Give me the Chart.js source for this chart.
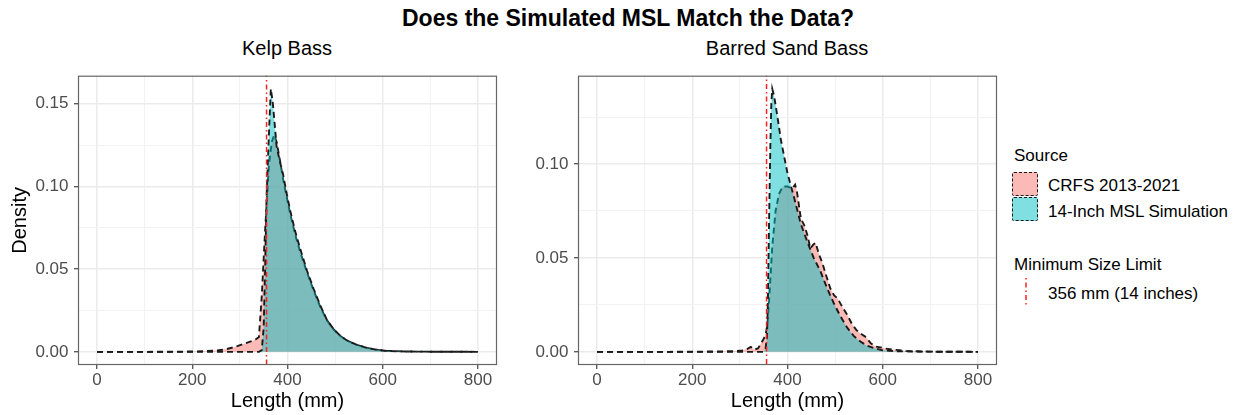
<!DOCTYPE html>
<html><head><meta charset="utf-8">
<script src="https://cdn.jsdelivr.net/npm/chart.js@4/dist/chart.umd.min.js"></script>
<style>
html,body{margin:0;padding:0;background:#fff;}
body{width:1242px;height:415px;overflow:hidden;position:relative;font-family:"Liberation Sans",Arial,Helvetica,sans-serif;color:#000;}
.t{position:absolute;white-space:nowrap;line-height:1;}
canvas{position:absolute;}
.key{position:absolute;box-sizing:border-box;width:26px;height:24px;border:1.8px dashed #1a1a1a;border-radius:2px;}
</style></head><body>
<div class="t" style="left:0;width:1256px;top:7px;text-align:center;font-weight:bold;font-size:23px;">Does the Simulated MSL Match the Data?</div>
<div class="t" style="left:187px;width:200px;top:38px;text-align:center;font-size:20px;">Kelp Bass</div>
<div class="t" style="left:637px;width:300px;top:38px;text-align:center;font-size:20px;">Barred Sand Bass</div>
<canvas id="c1" width="510" height="355" style="left:0;top:60px;"></canvas>
<canvas id="c2" width="510" height="355" style="left:500px;top:60px;"></canvas>
<div class="t" style="left:1014px;top:147px;font-size:17px;">Source</div>
<div class="key" style="left:1012px;top:172px;background:#FBBAB6;"></div>
<div class="key" style="left:1012px;top:197px;background:#7FDFE1;"></div>
<div class="t" style="left:1048px;top:177px;font-size:17px;">CRFS 2013-2021</div>
<div class="t" style="left:1048px;top:203px;font-size:17px;">14-Inch MSL Simulation</div>
<div class="t" style="left:1014px;top:256px;font-size:17px;">Minimum Size Limit</div>
<canvas id="lk" width="12" height="30" style="left:1020px;top:277px;"></canvas>
<div class="t" style="left:1048px;top:285px;font-size:17px;">356 mm (14 inches)</div>
<script>
// ---- data (length in mm, density) ----
const kelpCrfsLen = [0, 100, 150, 200, 230, 250, 270, 287, 305, 320, 333, 340, 346, 353, 361, 367, 372, 377, 384, 391, 398, 406, 416, 427, 441, 455, 469, 483, 497, 511, 525, 546, 567, 590, 610, 650, 700, 800];
const kelpCrfsDen = [0, 0, 0.0001, 0.0002, 0.0005, 0.0008, 0.0015, 0.0028, 0.0045, 0.006, 0.0075, 0.009, 0.034, 0.0735, 0.113, 0.127, 0.131, 0.127, 0.116, 0.104, 0.094, 0.083, 0.071, 0.060, 0.048, 0.037, 0.027, 0.019, 0.0135, 0.0095, 0.0068, 0.0042, 0.0024, 0.0012, 0.0006, 0.0002, 0.0001, 0];
const kelpSimLen = [0, 340, 346, 350, 353, 356, 361, 365, 369, 373, 377, 384, 391, 398, 406, 416, 427, 441, 455, 469, 483, 497, 511, 525, 546, 567, 590, 610, 650, 700, 800];
const kelpSimDen = [0, 0, 0.001, 0.015, 0.05, 0.093, 0.132, 0.159, 0.151, 0.138, 0.1245, 0.115, 0.107, 0.096, 0.085, 0.073, 0.062, 0.049, 0.038, 0.028, 0.0192, 0.0137, 0.0097, 0.0069, 0.0042, 0.0024, 0.0011, 0.0005, 0.0002, 0.0001, 0];
const barredCrfsLen = [0, 150, 250, 290, 305, 315, 323, 330, 338, 348, 354, 358, 362, 368, 375, 382, 390, 400, 410, 416, 420, 428, 435, 442, 448, 454, 459, 466, 473, 482, 490, 498, 505, 515, 525, 535, 545, 555, 565, 575, 585, 595, 605, 620, 635, 650, 700, 800];
const barredCrfsDen = [0, 0, 0.0002, 0.0004, 0.0008, 0.0015, 0.0026, 0.0012, 0.0018, 0.006, 0.009, 0.015, 0.030, 0.056, 0.075, 0.084, 0.088, 0.088, 0.087, 0.089, 0.085, 0.071, 0.0675, 0.062, 0.055, 0.057, 0.058, 0.052, 0.0475, 0.040, 0.0337, 0.030, 0.0285, 0.024, 0.0199, 0.015, 0.0115, 0.0095, 0.0078, 0.0045, 0.0028, 0.0024, 0.0018, 0.0012, 0.0009, 0.0004, 0.0001, 0];
const barredSimLen = [0, 350, 354, 357, 359, 361, 364, 366, 368, 372, 379, 386, 393, 400, 414, 428, 441, 455, 469, 483, 497, 511, 525, 539, 553, 567, 581, 600, 630, 700, 800];
const barredSimDen = [0, 0, 0.002, 0.008, 0.03, 0.065, 0.11, 0.132, 0.140, 0.136, 0.125, 0.113, 0.104, 0.095, 0.082, 0.068, 0.059, 0.050, 0.043, 0.034, 0.026, 0.019, 0.013, 0.0085, 0.0055, 0.0033, 0.002, 0.0008, 0.0003, 0.0001, 0];
const mslLength = 356;
// ---- ticks ----
const xMajorTicks = [0, 200, 400, 600, 800];
const xTickLabels = ['0', '200', '400', '600', '800'];
const xMinorTicks = [100, 300, 500, 700];
const yMajorTicks = [0, 0.05, 0.10, 0.15];
const yTickLabels = ['0.00', '0.05', '0.10', '0.15'];
const yMinorTicks = [0.025, 0.075, 0.125];
const seriesNames = ['CRFS 2013-2021', '14-Inch MSL Simulation'];

const FONT = '"Liberation Sans", Arial, Helvetica, sans-serif';
const framePlugin = {
  id: 'frame',
  afterDraw(chart) {
    const {ctx, chartArea: a} = chart;
    ctx.save();
    ctx.strokeStyle = '#666666';
    ctx.lineWidth = 1.2;
    ctx.strokeRect(a.left + 0.5, a.top + 0.5, a.right - a.left - 1, a.bottom - a.top - 1);
    ctx.restore();
  }
};

function pts(xs, ys) { return xs.map((x, i) => ({x: x, y: ys[i]})); }

function makeChart(id, cLen, cDen, sLen, sDen, showYTitle) {
  const peak = Math.max(...cDen, ...sDen);
  const yMin = -0.05 * peak, yMax = 1.05 * peak;
  const allLen = cLen.concat(sLen);
  const lo = Math.min(...allLen), hi = Math.max(...allLen);
  const xMin = lo - 0.05 * (hi - lo), xMax = hi + 0.05 * (hi - lo);
  const yVals = yMajorTicks.concat(yMinorTicks).filter(v => v >= yMin && v <= yMax).sort((a, b) => a - b);
  const xVals = xMajorTicks.concat(xMinorTicks).sort((a, b) => a - b);
  const isMajorX = v => xMajorTicks.some(m => Math.abs(m - v) < 1e-9);
  const isMajorY = v => yMajorTicks.some(m => Math.abs(m - v) < 1e-9);
  const gridColor = (maj) => (c) => (c.tick && maj(c.tick.value)) ? '#EBEBEB' : '#F2F2F2';
  const gridWidth = (maj) => (c) => (c.tick && maj(c.tick.value)) ? 1.5 : 1;
  const tickColor = (maj) => (c) => (c.tick && maj(c.tick.value)) ? '#333333' : 'rgba(0,0,0,0)';
  new Chart(document.getElementById(id), {
    type: 'line',
    data: {
      datasets: [
        { label: 'MSL', data: [{x: mslLength, y: yMin - 1}, {x: mslLength, y: yMax + 1}],
          borderColor: '#FF2020', borderWidth: 1.5, borderDash: [1.5, 3, 5, 3], fill: false,
          pointRadius: 0, tension: 0, clip: 0, order: 0 },
        { label: seriesNames[1], data: pts(sLen, sDen),
          borderColor: '#1a1a1a', borderWidth: 1.9, borderDash: [6, 4], backgroundColor: 'rgba(0,191,196,0.5)',
          fill: 'origin', pointRadius: 0, tension: 0, order: 1 },
        { label: seriesNames[0], data: pts(cLen, cDen),
          borderColor: '#1a1a1a', borderWidth: 1.9, borderDash: [6, 4], backgroundColor: 'rgba(248,118,109,0.5)',
          fill: 'origin', pointRadius: 0, tension: 0, order: 2 }
      ]
    },
    options: {
      responsive: false, animation: false, devicePixelRatio: 1,
      layout: { padding: { top: 7, right: 13, left: 0, bottom: 0 } },
      plugins: { legend: { display: false }, tooltip: { enabled: false }, title: { display: false } },
      scales: {
        x: {
          type: 'linear', min: xMin, max: xMax,
          afterBuildTicks: s => { s.ticks = xVals.map(v => ({value: v})); },
          afterFit: s => { s.height = 50; },
          grid: { color: gridColor(isMajorX), lineWidth: gridWidth(isMajorX), tickColor: tickColor(isMajorX), tickLength: 4, tickWidth: 1.1 },
          border: { display: false },
          ticks: { autoSkip: false, maxRotation: 0, padding: 1, color: '#4D4D4D', font: { family: FONT, size: 17, lineHeight: 1.2 },
            callback: v => { const i = xMajorTicks.findIndex(m => Math.abs(m - v) < 1e-9); return i >= 0 ? xTickLabels[i] : ''; } },
          title: { display: true, text: 'Length (mm)', color: '#000', font: { family: FONT, size: 20, lineHeight: 1.2 }, padding: { top: 0, bottom: 1.7 } }
        },
        y: {
          type: 'linear', min: yMin, max: yMax,
          afterBuildTicks: s => { s.ticks = yVals.map(v => ({value: v})); },
          afterFit: s => { s.width = 78; },
          grid: { color: gridColor(isMajorY), lineWidth: gridWidth(isMajorY), tickColor: tickColor(isMajorY), tickLength: 4, tickWidth: 1.1 },
          border: { display: false },
          ticks: { autoSkip: false, padding: 5.5, color: '#4D4D4D', font: { family: FONT, size: 17, lineHeight: 1.2 },
            callback: v => { const i = yMajorTicks.findIndex(m => Math.abs(m - v) < 1e-9); return i >= 0 ? yTickLabels[i] : ''; } },
          title: { display: showYTitle, text: 'Density', color: '#000', font: { family: FONT, size: 20, lineHeight: 1.2 }, padding: { top: 8.3, bottom: 0 } }
        }
      }
    },
    plugins: [framePlugin]
  });
}

makeChart('c1', kelpCrfsLen, kelpCrfsDen, kelpSimLen, kelpSimDen, true);
makeChart('c2', barredCrfsLen, barredCrfsDen, barredSimLen, barredSimDen, false);

// legend key for the size-limit line
(function () {
  const c = document.getElementById('lk').getContext('2d');
  c.strokeStyle = '#FF2020'; c.lineWidth = 1.5; c.setLineDash([1.5, 3, 5, 3]);
  c.beginPath(); c.moveTo(6, 1); c.lineTo(6, 29); c.stroke();
})();
</script>
</body></html>
